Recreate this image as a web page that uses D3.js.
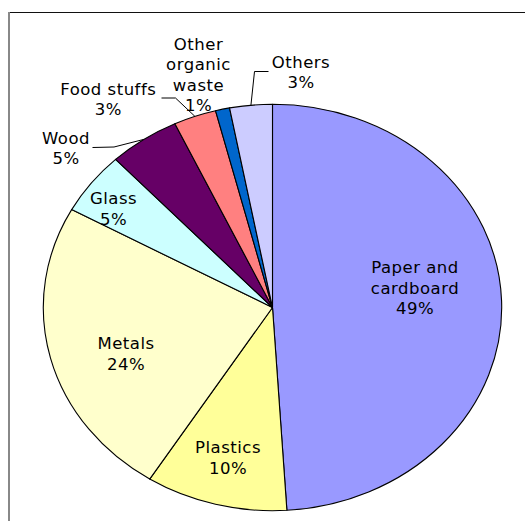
<!DOCTYPE html>
<html>
<head>
<meta charset="utf-8">
<script src="https://cdn.jsdelivr.net/npm/d3@7"></script>
<style>
  html, body { margin: 0; padding: 0; background: #fff; }
  svg { display: block; }
  text { font-family: "DejaVu Sans", sans-serif; font-size: 16.5px; fill: #000; letter-spacing: 0.5px; }
</style>
</head>
<body>
<script>
// Waste composition by material (percent of total)
const categories = ["Paper and cardboard", "Plastics", "Metals", "Glass", "Wood", "Food stuffs", "Other organic waste", "Others"];
const values = [49, 10, 24, 5, 5, 3, 1, 3];
const colors = ["#9999FF", "#FFFF99", "#FFFFCC", "#CCFFFF", "#660066", "#FF8080", "#0066CC", "#CCCCFF"];

// Label text lines (category name split over lines) and their placement
const labelLines = [["Paper and", "cardboard"], ["Plastics"], ["Metals"], ["Glass"], ["Wood"], ["Food stuffs"], ["Other", "organic", "waste"], ["Others"]];
const labelLayout = [
  { x: 415, y: 273 },   // first baseline
  { x: 228, y: 453 },
  { x: 126, y: 349 },
  { x: 113.5, y: 204 },
  { x: 66, y: 143.5 },
  { x: 108.3, y: 94.5 },
  { x: 198.5, y: 49.5 },
  { x: 301, y: 67.5 }
];
// Leader lines: start near the label, elbow, then to the slice's mid-point on the rim
const leaders = [
  { i: 4, pts: [[92.5, 147.5], [114, 147]] },
  { i: 5, pts: [[161.5, 98], [175.5, 98]] },
  { i: 7, pts: [[268.5, 71.5], [254.5, 71.5]] }
];

const W = 525, H = 521;
const cx = 272.5, cy = 307.5, rx = 229.2, ry = 203.2;
const lineH = 20.5;

const svg = d3.select("body").append("svg").attr("width", W).attr("height", H);

// chart area frame: top edge and left edge
svg.append("line").attr("x1", 9).attr("x2", W).attr("y1", 12.5).attr("y2", 12.5)
  .attr("stroke", "#111").attr("stroke-width", 1.2);
svg.append("line").attr("x1", 9).attr("x2", 9).attr("y1", 12).attr("y2", H)
  .attr("stroke", "#888").attr("stroke-width", 2);

const pie = d3.pie().sort(null).value(d => d)(values);
const arc = d3.arc().innerRadius(0).outerRadius(rx);

const g = svg.append("g").attr("transform", `translate(${cx},${cy}) scale(1,${ry / rx})`);
g.selectAll("path").data(pie).join("path")
  .attr("d", arc)
  .attr("fill", (d, i) => colors[i])
  .attr("stroke", "#000")
  .attr("stroke-width", 1.1)
  .attr("stroke-linejoin", "round")
  .attr("vector-effect", "non-scaling-stroke");

// leader lines
const rimPoint = a => [cx + rx * Math.sin(a), cy - ry * Math.cos(a)];
leaders.forEach(l => {
  const s = pie[l.i];
  const mid = (s.startAngle + s.endAngle) / 2;
  const pts = l.pts.concat([rimPoint(mid)]);
  svg.append("path")
    .attr("d", d3.line()(pts))
    .attr("fill", "none")
    .attr("stroke", "#000")
    .attr("stroke-width", 1);
});

// data labels: name lines then the percentage
categories.forEach((c, i) => {
  const pos = labelLayout[i];
  const lines = labelLines[i].concat([values[i] + "%"]);
  const t = svg.append("text").attr("text-anchor", "middle");
  lines.forEach((ln, k) => {
    t.append("tspan").attr("x", pos.x).attr("y", pos.y + k * lineH).text(ln);
  });
});
</script>
</body>
</html>
